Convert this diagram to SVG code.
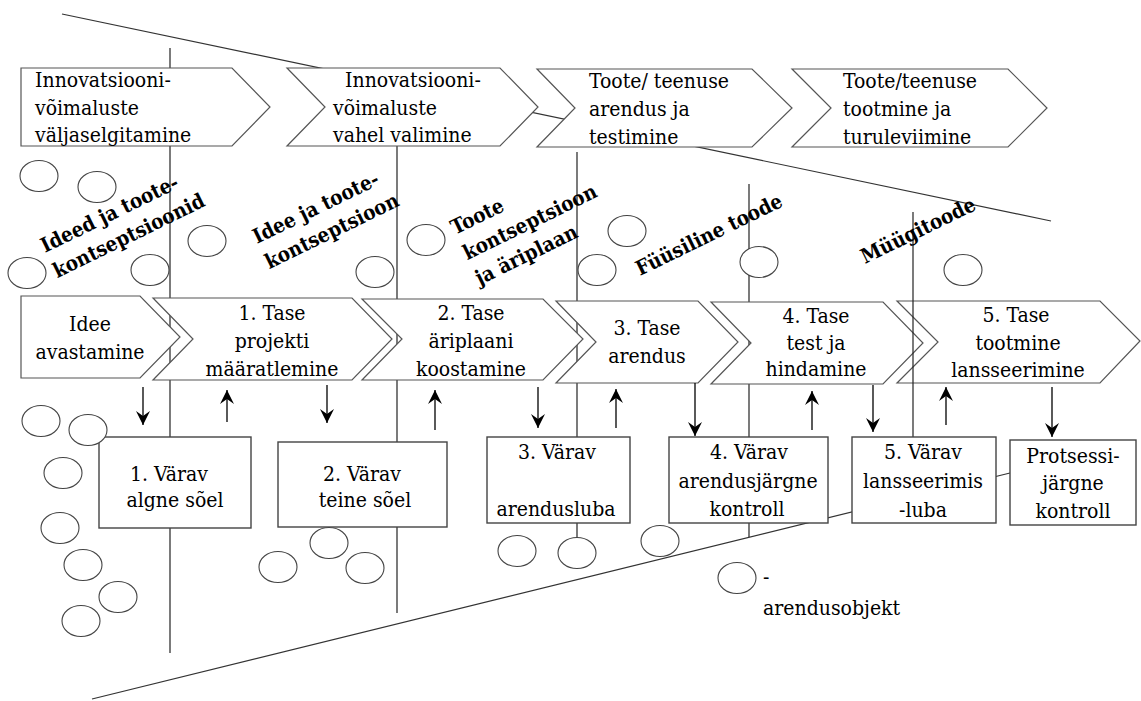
<svg xmlns="http://www.w3.org/2000/svg" width="1141" height="701" viewBox="0 0 1141 701">
<defs>
<style>
.ln{stroke:#333;stroke-width:1.2;fill:none}
.vl{stroke:#222;stroke-width:1.2;fill:none}
.sh{fill:#fff;stroke:#555;stroke-width:1.2}
.bx{fill:#fff;stroke:#444;stroke-width:1.4}
.ob{fill:#fff;stroke:#444;stroke-width:1.1}
.t{fill:#000;font-family:'DejaVu Serif Condensed','DejaVu Serif','Liberation Serif',serif;font-stretch:condensed;font-size:21px}
.c{text-anchor:middle}
.b{font-weight:bold;font-size:20.5px}
.ar{stroke:#000;stroke-width:1.3;fill:none;marker-end:url(#ah)}
</style>
<marker id="ah" viewBox="0 0 14 14" refX="14" refY="7" markerWidth="14" markerHeight="14" markerUnits="userSpaceOnUse" orient="auto">
<path d="M0,0 L14,7 L0,14 L5,7 Z" fill="#000"/>
</marker>
</defs>
<rect width="1141" height="701" fill="#fff"/>

<g id="guides">
<line class="ln" x1="62" y1="14" x2="1051" y2="221"/>
<line class="ln" x1="92" y1="699" x2="1010" y2="473"/>
<line class="vl" x1="170" y1="48" x2="170" y2="653"/>
<line class="vl" x1="397" y1="100" x2="397" y2="613"/>
<line class="vl" x1="577" y1="152" x2="577" y2="540"/>
<line class="vl" x1="749" y1="184" x2="749" y2="537"/>
</g>

<g id="phase1">
<polygon class="sh" points="21,68 232,68 270,107 232,146 21,146"/>
<text class="t"><tspan x="35" y="87">Innovatsiooni-</tspan><tspan x="35" y="115">võimaluste</tspan><tspan x="35" y="142">väljaselgitamine</tspan></text>
</g>
<g id="phase2">
<polygon class="sh" points="287,68 500,68 538,107 500,146 287,146 325,107"/>
<text class="t"><tspan x="345" y="87">Innovatsiooni-</tspan><tspan x="333" y="115">võimaluste</tspan><tspan x="333" y="142">vahel valimine</tspan></text>
</g>
<g id="phase3">
<polygon class="sh" points="537,69 752,69 792,108 752,147 537,147 575,108"/>
<text class="t"><tspan x="589" y="88">Toote/ teenuse</tspan><tspan x="589" y="116">arendus ja</tspan><tspan x="589" y="144">testimine</tspan></text>
</g>
<g id="phase4">
<polygon class="sh" points="792,69 1008,69 1047,108 1008,147 792,147 831,108"/>
<text class="t"><tspan x="843" y="88">Toote/teenuse</tspan><tspan x="843" y="116">tootmine ja</tspan><tspan x="843" y="144">turuleviimine</tspan></text>
</g>

<g id="stage0">
<polygon class="sh" points="21,296 140,296 180,337 140,378 21,378"/>
<text class="t c"><tspan x="90" y="331">Idee</tspan><tspan x="90" y="359">avastamine</tspan></text>
</g>
<g id="stage1">
<polygon class="sh" points="153,298 352,298 392,339 352,380 153,380 193,339"/>
<text class="t c"><tspan x="272" y="320">1. Tase</tspan><tspan x="272" y="348">projekti</tspan><tspan x="272" y="376">määratlemine</tspan></text>
</g>
<g id="stage2">
<polygon class="sh" points="362,299 543,299 583,339 543,380 362,380 402,339"/>
<text class="t c"><tspan x="471" y="320">2. Tase</tspan><tspan x="471" y="348">äriplaani</tspan><tspan x="471" y="376">koostamine</tspan></text>
</g>
<g id="stage3">
<polygon class="sh" points="556,301 698,301 738,342 698,383 556,383 596,342"/>
<text class="t c"><tspan x="647" y="335">3. Tase</tspan><tspan x="647" y="363">arendus</tspan></text>
</g>
<g id="stage4">
<polygon class="sh" points="711,302 883,302 923,343 883,384 711,384 751,343"/>
<text class="t c"><tspan x="816" y="323">4. Tase</tspan><tspan x="816" y="350">test ja</tspan><tspan x="816" y="376">hindamine</tspan></text>
</g>
<g id="stage5">
<polygon class="sh" points="897,301 1100,301 1140,341 1100,383 897,383 938,342"/>
<text class="t c"><tspan x="1016" y="322">5. Tase</tspan><tspan x="1018" y="350">tootmine</tspan><tspan x="1018" y="377">lansseerimine</tspan></text>
</g>

<line class="vl" x1="913" y1="212" x2="913" y2="437"/>

<g id="gate1">
<rect class="bx" x="99" y="437" width="152" height="91"/>
<text class="t c"><tspan x="169" y="481">1. Värav</tspan><tspan x="175" y="507">algne sõel</tspan></text>
</g>
<g id="gate2">
<rect class="bx" x="278" y="442" width="169" height="85"/>
<text class="t c"><tspan x="362" y="481">2. Värav</tspan><tspan x="365" y="507">teine sõel</tspan></text>
</g>
<g id="gate3">
<rect class="bx" x="487" y="437" width="143" height="86"/>
<text class="t c"><tspan x="557" y="459">3. Värav</tspan><tspan x="556" y="516">arendusluba</tspan></text>
</g>
<g id="gate4">
<rect class="bx" x="669" y="437" width="159" height="86"/>
<text class="t c"><tspan x="749" y="459">4. Värav</tspan><tspan x="748" y="488">arendusjärgne</tspan><tspan x="747" y="516">kontroll</tspan></text>
</g>
<g id="gate5">
<rect class="bx" x="852" y="437" width="144" height="86"/>
<text class="t c"><tspan x="923" y="459">5. Värav</tspan><tspan x="923" y="488">lansseerimis</tspan><tspan x="923" y="517">-luba</tspan></text>
</g>
<g id="post">
<rect class="bx" x="1010" y="440" width="126" height="85"/>
<text class="t c"><tspan x="1073" y="463">Protsessi-</tspan><tspan x="1073" y="490">järgne</tspan><tspan x="1073" y="518">kontroll</tspan></text>
</g>

<g id="objects">
<ellipse class="ob" cx="39" cy="176" rx="19" ry="15.5"/>
<ellipse class="ob" cx="97" cy="187" rx="19" ry="15.5"/>
<ellipse class="ob" cx="207" cy="241" rx="19" ry="15.5"/>
<ellipse class="ob" cx="27" cy="273" rx="19" ry="15.5"/>
<ellipse class="ob" cx="150" cy="270" rx="19" ry="15.5"/>
<ellipse class="ob" cx="375" cy="272" rx="19" ry="15.5"/>
<ellipse class="ob" cx="426" cy="240" rx="19" ry="15.5"/>
<ellipse class="ob" cx="627" cy="231" rx="19" ry="15.5"/>
<ellipse class="ob" cx="597" cy="270" rx="19" ry="15.5"/>
<ellipse class="ob" cx="759" cy="262" rx="19" ry="15.5"/>
<ellipse class="ob" cx="963" cy="270" rx="19" ry="15.5"/>
<ellipse class="ob" cx="41" cy="421" rx="19" ry="15.5"/>
<ellipse class="ob" cx="88" cy="430" rx="19" ry="15.5"/>
<ellipse class="ob" cx="63" cy="473" rx="19" ry="15.5"/>
<ellipse class="ob" cx="60" cy="528" rx="19" ry="15.5"/>
<ellipse class="ob" cx="83" cy="565" rx="19" ry="15.5"/>
<ellipse class="ob" cx="118" cy="597" rx="19" ry="15.5"/>
<ellipse class="ob" cx="81" cy="621" rx="19" ry="15.5"/>
<ellipse class="ob" cx="278" cy="567" rx="19" ry="15.5"/>
<ellipse class="ob" cx="329" cy="543" rx="19" ry="15.5"/>
<ellipse class="ob" cx="365" cy="568" rx="19" ry="15.5"/>
<ellipse class="ob" cx="517" cy="551" rx="19" ry="15.5"/>
<ellipse class="ob" cx="577" cy="553" rx="19" ry="15.5"/>
<ellipse class="ob" cx="660" cy="541" rx="19" ry="15.5"/>
</g>

<g id="legend">
<ellipse class="ob" cx="737" cy="578" rx="19" ry="15.5"/>
<text class="t" x="763" y="584">-</text>
<text class="t" x="763" y="615">arendusobjekt</text>
</g>

<g id="connectors">
<line class="ar" x1="143" y1="387" x2="143" y2="425"/>
<line class="ar" x1="227" y1="422" x2="227" y2="390"/>
<line class="ar" x1="327" y1="385" x2="327" y2="423"/>
<line class="ar" x1="435" y1="430" x2="435" y2="390"/>
<line class="ar" x1="538" y1="387" x2="538" y2="428"/>
<line class="ar" x1="616" y1="428" x2="616" y2="389"/>
<line class="ar" x1="695" y1="383" x2="695" y2="436"/>
<line class="ar" x1="812" y1="430" x2="812" y2="391"/>
<line class="ar" x1="873" y1="385" x2="873" y2="432"/>
<line class="ar" x1="946" y1="425" x2="946" y2="387"/>
<line class="ar" x1="1052" y1="387" x2="1052" y2="437"/>
</g>

<g id="labels">
<text class="t b" transform="translate(45,253) rotate(-26)"><tspan x="0" y="0">Ideed ja toote-</tspan><tspan x="0" dy="28">kontseptsioonid</tspan></text>
<text class="t b" transform="translate(257,244) rotate(-26)"><tspan x="0" y="0">Idee ja toote-</tspan><tspan x="0" dy="28">kontseptsioon</tspan></text>
<text class="t b" transform="translate(455,235) rotate(-26)"><tspan x="0" y="0">Toote</tspan><tspan x="0" dy="28">kontseptsioon</tspan><tspan x="0" dy="28">ja äriplaan</tspan></text>
<text class="t b" transform="translate(640,276) rotate(-26)">Füüsiline toode</text>
<text class="t b" transform="translate(865,264) rotate(-26)">Müügitoode</text>
</g>
</svg>
